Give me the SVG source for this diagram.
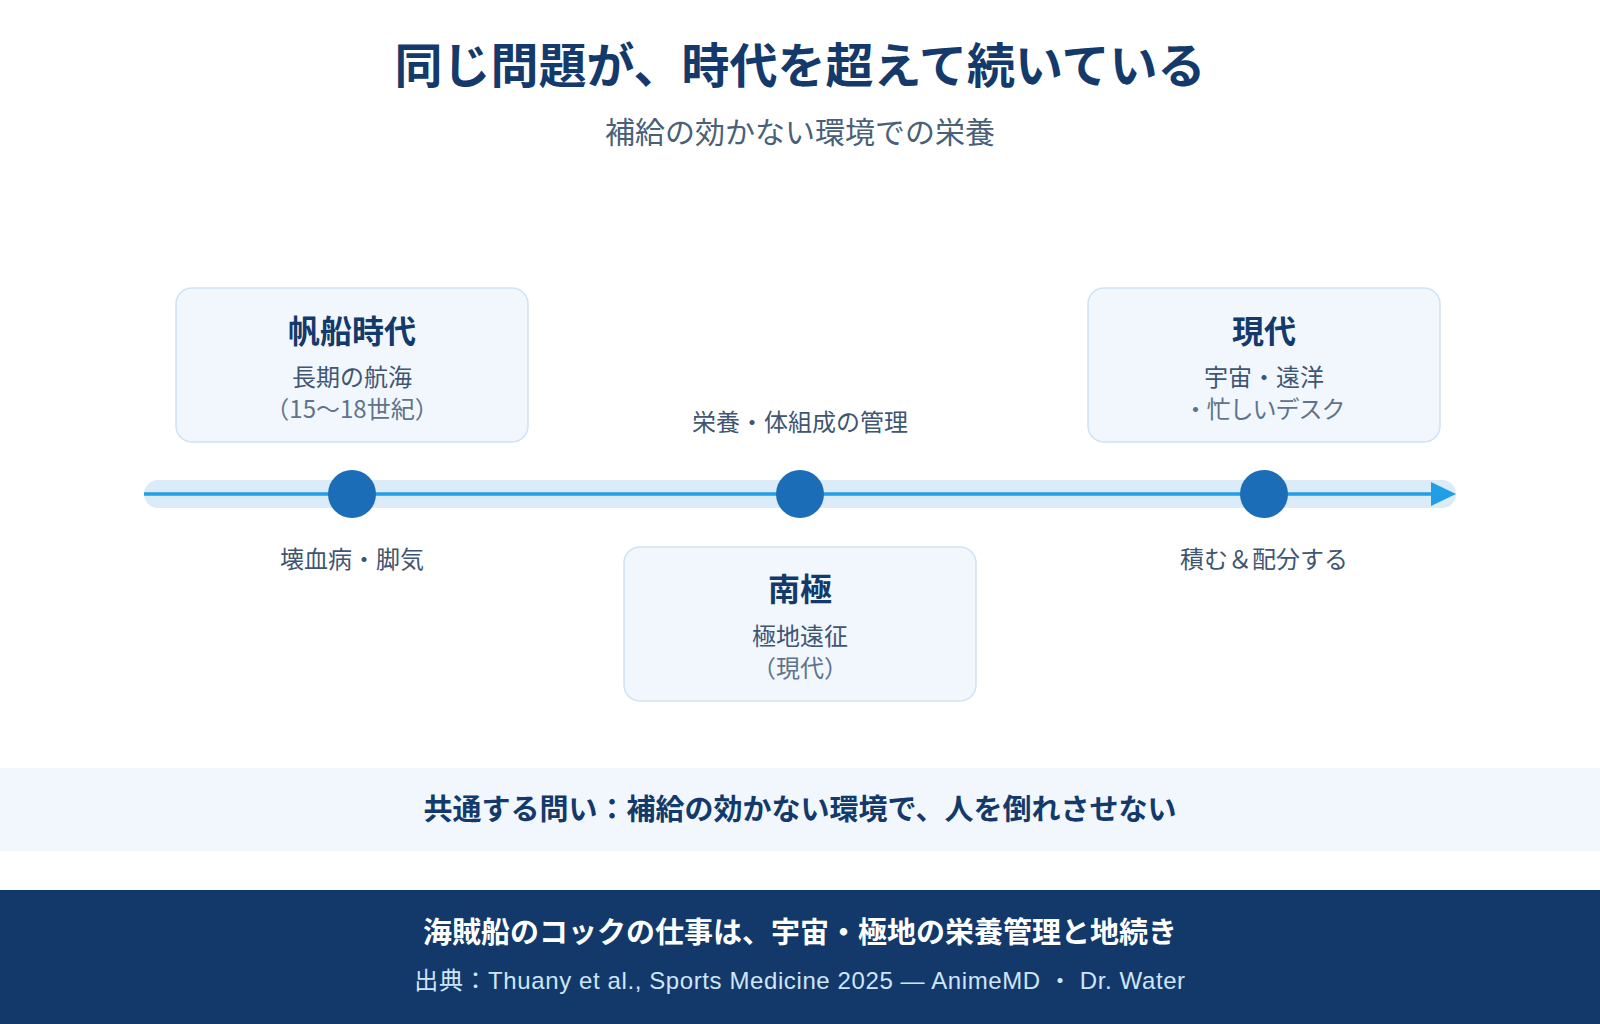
<svg xmlns="http://www.w3.org/2000/svg" width="1600" height="1024" viewBox="0 0 1600 1024">
<style>
text{font-family:"Noto Sans CJK JP","Noto Sans",sans-serif;text-anchor:middle}
.title{font-size:48px;font-weight:700;fill:#133a6b}
.sub{font-size:30px;font-weight:400;fill:#4a5f78}
.box{fill:#f1f7fd;stroke:#cfe2f3;stroke-width:1.5}
.bt{font-size:32px;font-weight:700;fill:#133a6b}
.b1{font-size:24px;fill:#3f5673}
.b2{font-size:24px;fill:#5f738c}
.lab{font-size:24px;fill:#3f5673}
.dot{fill:#1b6db7}
.band{font-size:29px;font-weight:700;fill:#133a6b}
.f1{font-size:29px;font-weight:700;fill:#ffffff}
.f2{font-size:24px;fill:#cfe5fa;letter-spacing:0.6px;font-family:"Liberation Sans","Noto Sans CJK JP",sans-serif}
</style>
<rect width="1600" height="1024" fill="#ffffff"/>
<text class="title" x="800" y="83">同じ問題が、時代を超えて続いている</text>
<text class="sub" x="800" y="143">補給の効かない環境での栄養</text>

<g id="connectors">
<rect x="144" y="480" width="1312" height="28" rx="14" fill="#dcebf8"/>
<line x1="144" y1="494" x2="1434" y2="494" stroke="#229ee6" stroke-width="3.5"/>
<polygon points="1431,482 1456,494 1431,506" fill="#229ee6"/>
</g>

<g id="node-sailing">
<rect class="box" x="176" y="288" width="352" height="154" rx="16"/>
<text class="bt" x="352" y="343">帆船時代</text>
<text class="b1" x="352" y="386">長期の航海</text>
<text class="b2" x="352" y="418">（15〜18世紀）</text>
<circle class="dot" cx="352" cy="494" r="24"/>
<text class="lab" x="352" y="568">壊血病・脚気</text>
</g>

<g id="node-antarctic">
<text class="lab" x="800" y="431">栄養・体組成の管理</text>
<circle class="dot" cx="800" cy="494" r="24"/>
<rect class="box" x="624" y="547" width="352" height="154" rx="16"/>
<text class="bt" x="800" y="601">南極</text>
<text class="b1" x="800" y="645">極地遠征</text>
<text class="b2" x="800" y="677">（現代）</text>
</g>

<g id="node-modern">
<rect class="box" x="1088" y="288" width="352" height="154" rx="16"/>
<text class="bt" x="1264" y="343">現代</text>
<text class="b1" x="1264" y="386">宇宙・遠洋</text>
<text class="b2" x="1264" y="418" letter-spacing="-1">・忙しいデスク</text>
<circle class="dot" cx="1264" cy="494" r="24"/>
<text class="lab" x="1264" y="568">積む＆配分する</text>
</g>

<g id="banner">
<rect x="0" y="768" width="1600" height="83" fill="#f1f7fd"/>
<text class="band" x="800" y="820">共通する問い：補給の効かない環境で、人を倒れさせない</text>
</g>

<g id="footer">
<rect x="0" y="890" width="1600" height="134" fill="#13396a"/>
<text class="f1" x="800" y="943">海賊船のコックの仕事は、宇宙・極地の栄養管理と地続き</text>
<text class="f2" x="800" y="989">出典：Thuany et al., Sports Medicine 2025 — AnimeMD ・ Dr. Water</text>
</g>
</svg>
